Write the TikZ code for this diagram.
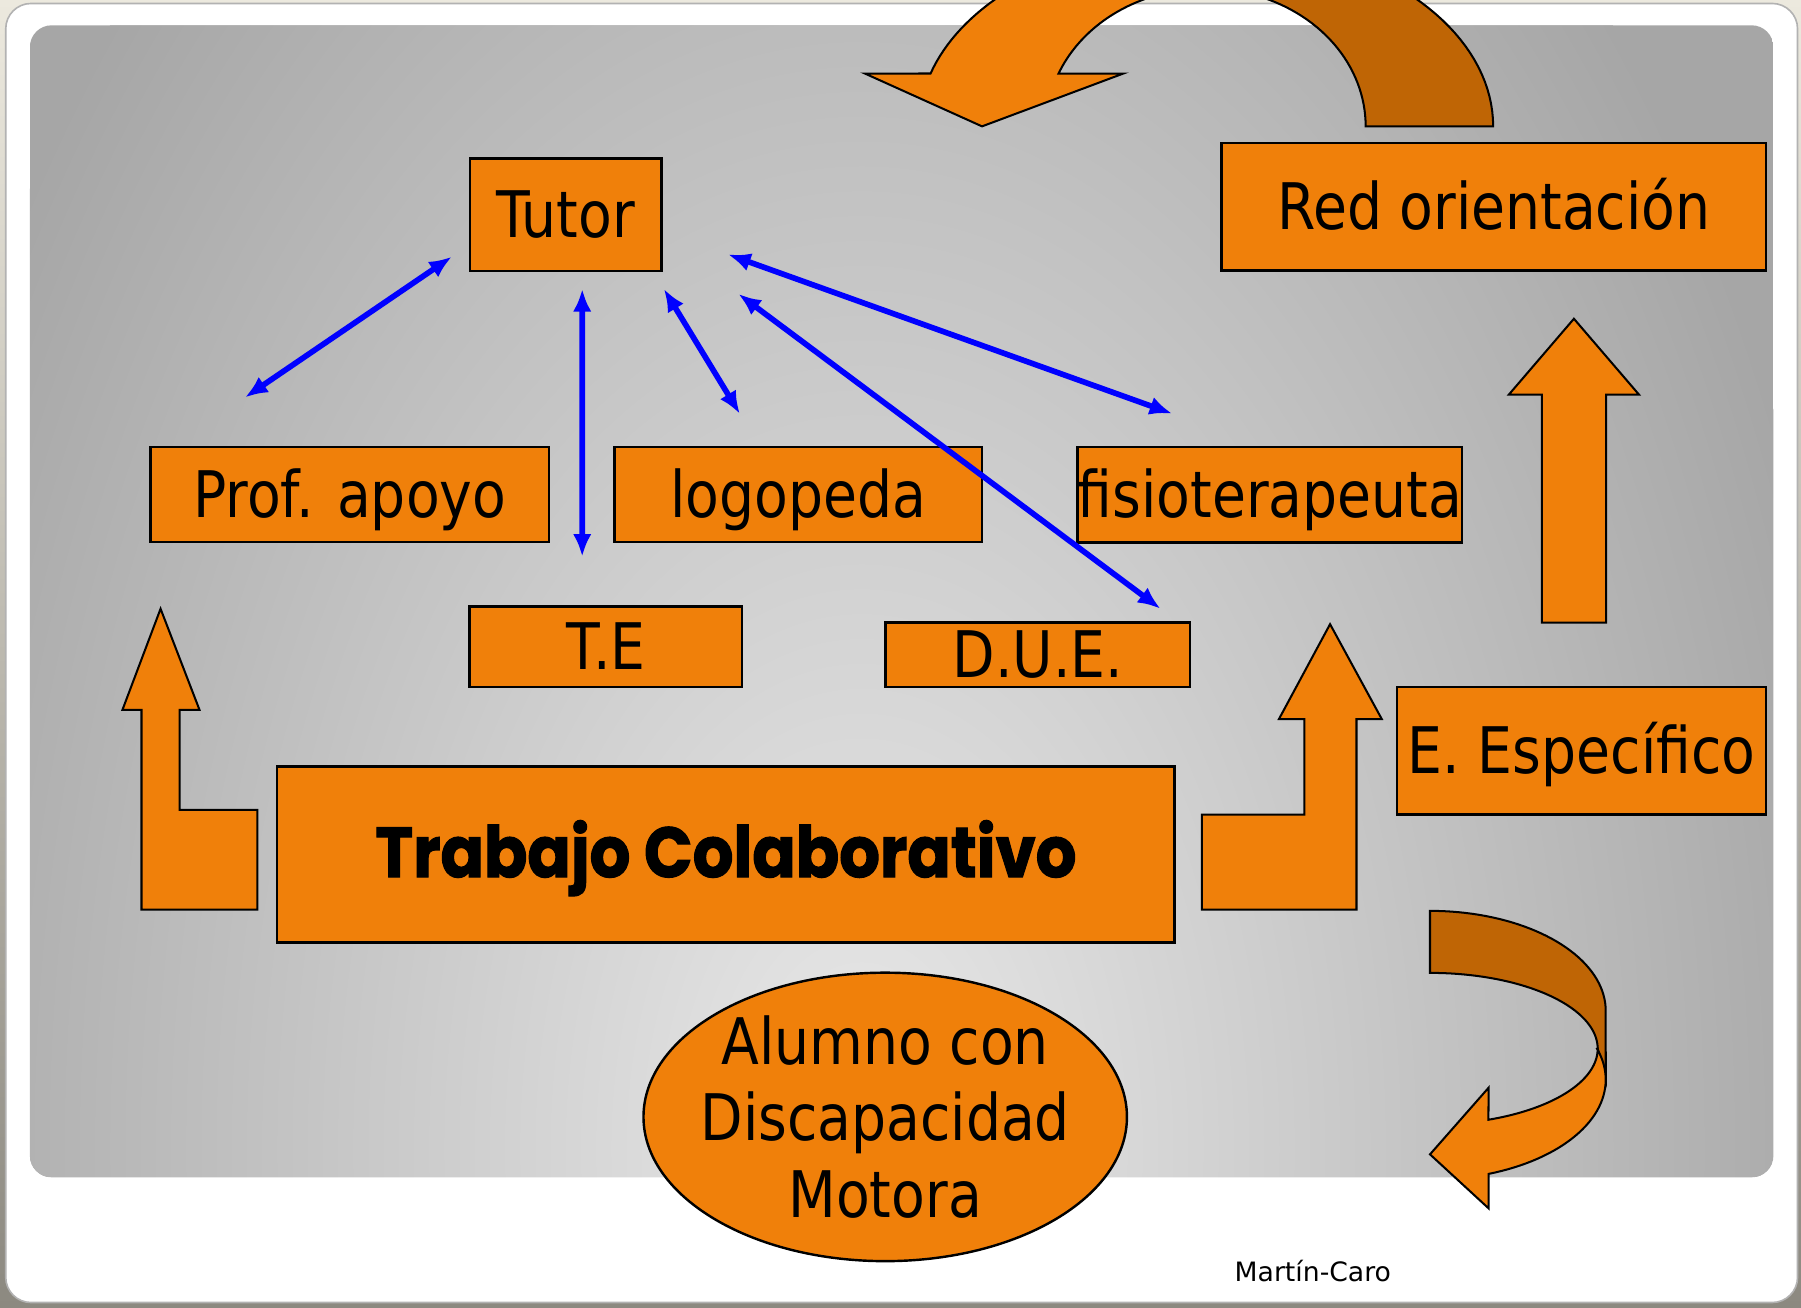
\documentclass[tikz,border=0pt]{standalone}
\usepackage{fontspec}
\setmainfont{DejaVu Sans}[FakeStretch=0.86]
\newfontfamily\heavyfont{Poppins}[FakeStretch=0.90,BoldFeatures={FakeBold=1.5}]
\newfontfamily\smallfont{DejaVu Sans}
\usetikzlibrary{shapes.geometric, arrows.meta}
\definecolor{boxorange}{RGB}{240,128,10}
\definecolor{backorange}{RGB}{191,101,5}
\definecolor{pnlin}{RGB}{233,233,233}
\definecolor{pnlout}{RGB}{166,166,166}
\definecolor{frametop}{RGB}{236,233,222}
\definecolor{framebot}{RGB}{140,137,128}

\begin{document}
\begin{tikzpicture}[x=0.01cm, y=-0.01cm,
    elem/.style={draw,rectangle,fill=boxorange,line width=0.6pt,inner sep=0pt,align=center,font=\fontsize{15.9}{18.9}\selectfont,text height=11.2pt,text depth=0pt},
    circ/.style={draw,ellipse,fill=boxorange,line width=0.6pt,inner xsep=-0.12cm,inner ysep=-0.08cm,align=center,font=\fontsize{15.9}{18.9}\selectfont},
    blk/.style={draw,fill=boxorange,line width=0.5pt},
    bck/.style={draw,fill=backorange,line width=0.5pt},
    link/.style={draw=blue,line width=1.4pt,{Latex[length=5.6pt,width=4.6pt]}-{Latex[length=5.6pt,width=4.6pt]}}]
    \useasboundingbox (0,0) rectangle (1568,1138);
    \begin{scope}
    \clip (0,0) rectangle (1568,1138);
    \shade[top color=frametop,bottom color=framebot] (0,0) rectangle (1568,1138);
    \fill[white,draw=gray!60,rounded corners=0.22cm] (5,3) rectangle (1565,1134);
    \begin{scope}
        \clip[rounded corners=0.19cm] (26,22) rectangle (1544,1025);
        \fill[pnlout] (26,22) rectangle (1544,1025);
        \shade[inner color=pnlin,outer color=pnlout] (750,1000) ellipse[x radius=8.85cm,y radius=14.5cm];
    \end{scope}
    % curved arrows
    \draw[bck] plot[domain=-90:0,samples=40,variable=\t] ({1050+250*cos(\t)},{110+163*sin(\t)})
        -- plot[domain=0:-90,samples=40,variable=\t] ({1050+139*cos(\t)},{110+120*sin(\t)}) -- cycle;
    \draw[blk] plot[domain=-163.6:-90,samples=40,variable=\t] ({1050+250*cos(\t)},{110+163*sin(\t)})
        -- plot[domain=-90:-157.5,samples=40,variable=\t] ({1050+139*cos(\t)},{110+120*sin(\t)})
        -- (978,64) -- (855,110) -- (753,64) -- cycle;
    \draw[bck] plot[domain=-90:0,samples=40,variable=\t] ({1245+153*cos(\t)},{880+87*sin(\t)})
        -- (1398,940) -- (1391,913)
        -- plot[domain=0:-90,samples=40,variable=\t] ({1245+146*cos(\t)},{913+66*sin(\t)}) -- cycle;
    \draw[blk] plot[domain=-18:70.5,samples=40,variable=\t] ({1245+153*cos(\t)},{940+87*sin(\t)})
        -- (1296,1052) -- (1245,1005) -- (1296,947)
        -- plot[domain=69.6:0,samples=40,variable=\t] ({1245+146*cos(\t)},{913+66*sin(\t)}) -- cycle;
    % block arrows
    \draw[blk] (139.8,530) -- (173.7,618) -- (156.4,618) -- (156.4,705) -- (224,705) -- (224,792)
        -- (123.2,792) -- (123.2,618) -- (106.6,618) -- cycle;
    \draw[blk] (1158,543.4) -- (1203,626) -- (1181,626) -- (1181,792) -- (1046.3,792) -- (1046.3,709.3)
        -- (1135.6,709.3) -- (1135.6,626) -- (1113.5,626) -- cycle;
    \draw[blk] (1370.3,277.5) -- (1427,343.6) -- (1398.3,343.6) -- (1398.3,542) -- (1342.4,542)
        -- (1342.4,343.6) -- (1313.6,343.6) -- cycle;
    \end{scope}
    \node (tut) [elem,minimum width=1.67cm,minimum height=0.98cm] at (492.5,187) {Tutor};
    \node (red) [elem,minimum width=4.74cm,minimum height=1.11cm] at (1300.5,180) {Red orientación};
    \node (pro) [elem,minimum width=3.47cm,minimum height=0.83cm] at (304.5,430.5) {Prof. apoyo};
    \node (log) [elem,minimum width=3.20cm,minimum height=0.83cm] at (695,430.5) {logopeda};
    \node (fis) [elem,minimum width=3.34cm,minimum height=0.83cm] at (1105.6,430.6) {fisioterapeuta};
    \node (te) [elem,minimum width=2.37cm,minimum height=0.70cm] at (527.5,563) {T.E};
    \node (due) [elem,minimum width=2.65cm,minimum height=0.56cm] at (903.5,570) {D.U.E.};
    \node (esp) [elem,minimum width=3.21cm,minimum height=1.11cm] at (1377,653.7) {E. Específico};
    \node (tra) [elem,minimum width=7.81cm,minimum height=1.53cm,font=\heavyfont\bfseries\fontsize{17.6}{20}\selectfont] at (632,744) {Trabajo Colaborativo};
    \node (alu) [circ,minimum width=4.18cm,minimum height=2.51cm] at (770.7,972.4) {Alumno con\\Discapacidad\\Motora};
    \node (sig) [font=\smallfont\fontsize{6.6}{8}\selectfont] at (1143,1107) {Martín-Caro};
    \draw[link] ([shift={(-14.5,-13.6)}]tut.south west) -- ([shift={(83.5,-41.9)}]pro.north west);
    \draw[link] ([shift={(14.4,14.5)}]tut.south) -- ([shift={(-20.6,-42.3)}]te.north);
    \draw[link] ([shift={(0.9,14.5)}]tut.south east) -- ([shift={(110.3,-27.6)}]log.north west);
    \draw[link] ([shift={(56.8,34.5)}]tut.east) -- ([shift={(83.4,-27.9)}]fis.north west);
    \draw[link] ([shift={(65.8,18.8)}]tut.south east) -- ([shift={(-26.8,-11)}]due.north east);
\end{tikzpicture}
\end{document}
